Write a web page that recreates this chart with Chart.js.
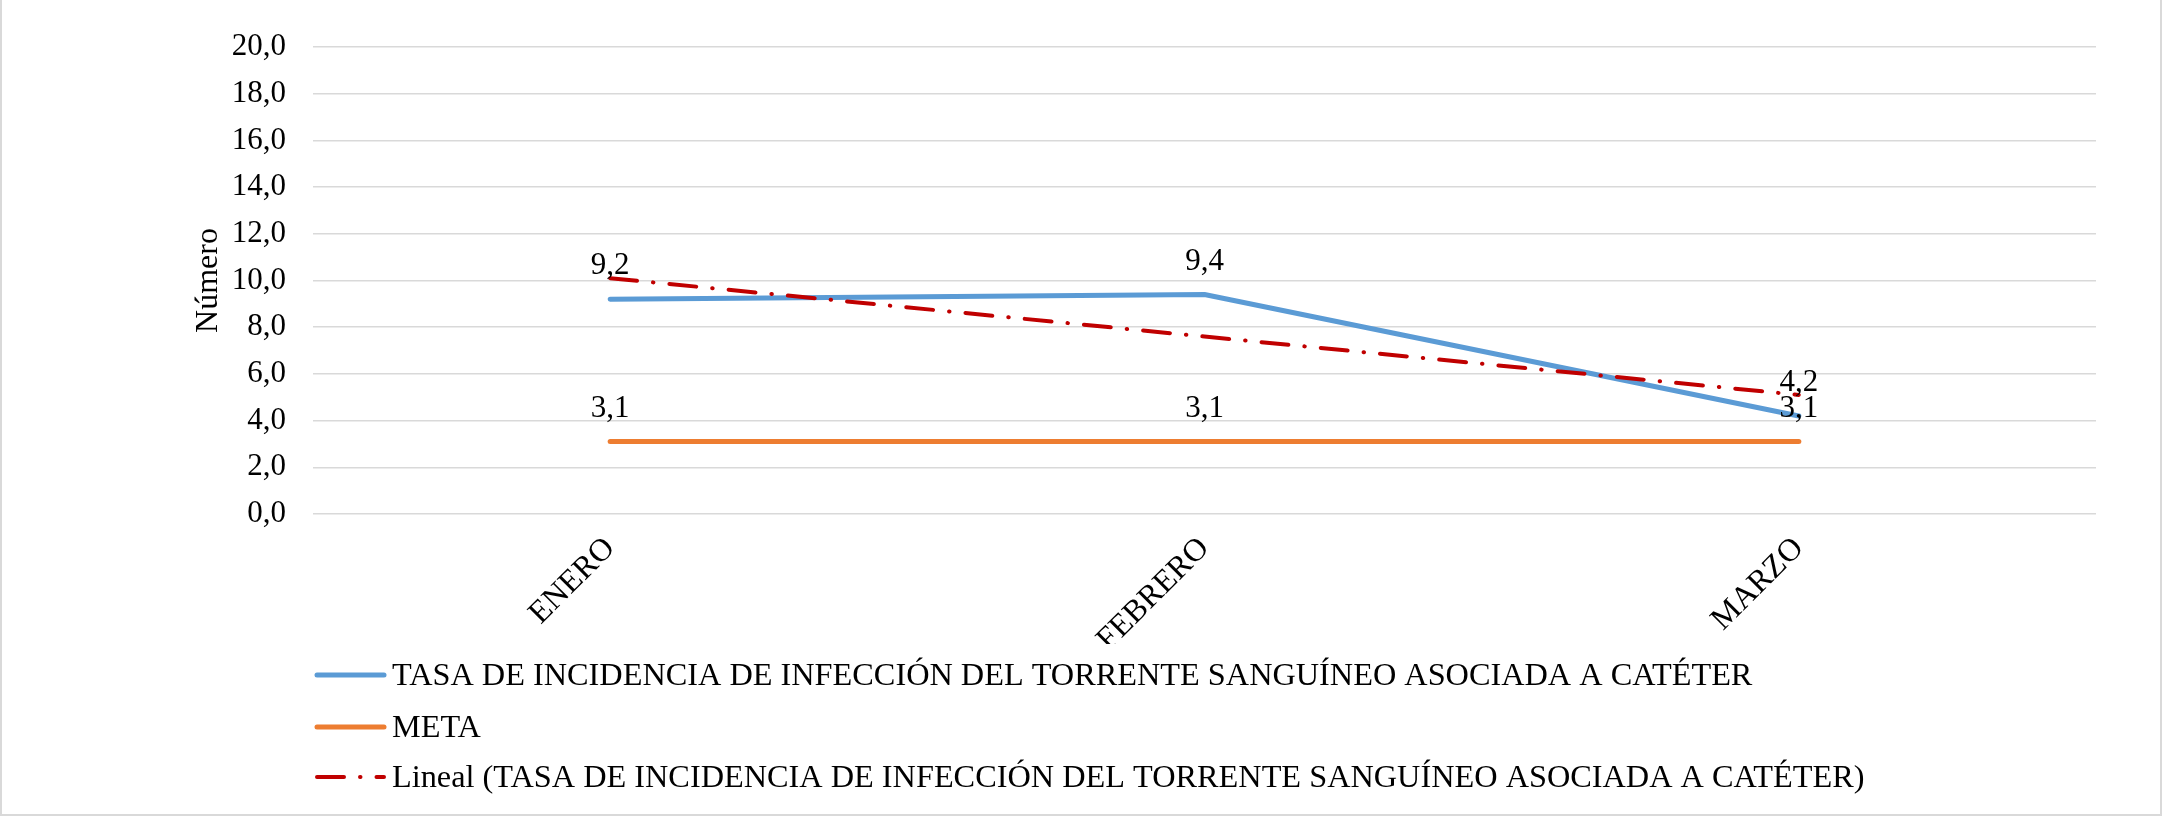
<!DOCTYPE html>
<html>
<head>
<meta charset="utf-8">
<script src="https://cdn.jsdelivr.net/npm/chart.js@4.4.0/dist/chart.umd.min.js"></script>
<style>
  html, body { margin: 0; padding: 0; background: #fff; }
  #wrap { position: relative; width: 2162px; height: 816px; }
</style>
</head>
<body>
<div id="wrap"><canvas id="myChart"></canvas></div>
<script>
/*************** data ***************/
const months = ["ENERO", "FEBRERO", "MARZO"];
const tasa = [9.2, 9.4, 4.2];
const meta = [3.1, 3.1, 3.1];
// linear trend of the rate
const lineal = [10.1, 7.6, 5.1];
const yTicks = [0, 2, 4, 6, 8, 10, 12, 14, 16, 18, 20];

const nameTasa = "TASA DE INCIDENCIA DE INFECCIÓN DEL TORRENTE SANGUÍNEO ASOCIADA A CATÉTER";
const nameMeta = "META";
const nameLineal = "Lineal (TASA DE INCIDENCIA DE INFECCIÓN DEL TORRENTE SANGUÍNEO ASOCIADA A CATÉTER)";

const serif = "'Liberation Serif', 'Times New Roman', serif";
const fmt = v => v.toFixed(1).replace(".", ",");

Chart.defaults.font.family = serif;
Chart.defaults.color = "#000";

/*************** value labels above points ***************/
const valueLabels = {
  id: "valueLabels",
  afterDatasetsDraw(chart) {
    const ctx = chart.ctx;
    ctx.save();
    ctx.font = "31px " + serif;
    ctx.fillStyle = "#000";
    ctx.textAlign = "center";
    ctx.textBaseline = "alphabetic";
    chart.data.datasets.forEach((ds, i) => {
      if (!ds.showValues) return;
      chart.getDatasetMeta(i).data.forEach((pt, j) => {
        ctx.fillText(fmt(ds.data[j]), pt.x, pt.y - 25);
      });
    });
    ctx.restore();
  }
};

/*************** legend, one row per series ***************/
const stackedLegend = {
  id: "stackedLegend",
  afterDraw(chart) {
    const ctx = chart.ctx;
    const rows = [675, 727, 777];
    const order = [0, 1, 2];
    ctx.save();
    ctx.font = "32.3px " + serif;
    ctx.fillStyle = "#000";
    ctx.textBaseline = "alphabetic";
    order.forEach((di, r) => {
      const ds = chart.data.datasets[di];
      const y = rows[r];
      ctx.beginPath();
      ctx.strokeStyle = ds.borderColor;
      ctx.lineWidth = ds.borderWidth;
      ctx.lineCap = "round";
      ctx.setLineDash(ds.borderDash || []);
      ctx.moveTo(317, y);
      ctx.lineTo(384, y);
      ctx.stroke();
      ctx.setLineDash([]);
      ctx.fillText(ds.label, 392, y + 10);
    });
    ctx.restore();
  }
};

/*************** light frame ***************/
const frame = {
  id: "frame",
  afterDraw(chart) {
    const ctx = chart.ctx;
    const w = chart.width, h = chart.height;
    ctx.save();
    ctx.strokeStyle = "#d9d9d9";
    ctx.lineWidth = 2;
    ctx.beginPath();
    ctx.moveTo(1, 0);
    ctx.lineTo(1, h - 1);
    ctx.lineTo(w - 1, h - 1);
    ctx.lineTo(w - 1, 0);
    ctx.stroke();
    ctx.restore();
  }
};

/*************** chart ***************/
const ctx = document.getElementById("myChart").getContext("2d");

new Chart(ctx, {
  type: "line",
  data: {
    labels: months,
    datasets: [
      {
        label: nameTasa,
        data: tasa,
        borderColor: "#5B9BD5",
        borderWidth: 5,
        borderCapStyle: "round",
        borderJoinStyle: "round",
        pointRadius: 0,
        tension: 0,
        order: 3,
        showValues: true
      },
      {
        label: nameMeta,
        data: meta,
        borderColor: "#ED7D31",
        borderWidth: 5,
        borderCapStyle: "round",
        borderJoinStyle: "round",
        pointRadius: 0,
        tension: 0,
        order: 2,
        showValues: true
      },
      {
        label: nameLineal,
        data: lineal,
        borderColor: "#C00000",
        borderWidth: 4,
        borderDash: [27, 16, 0.5, 16],
        borderCapStyle: "round",
        pointRadius: 0,
        tension: 0,
        order: 1
      }
    ]
  },
  options: {
    responsive: true,
    maintainAspectRatio: false,
    animation: false,
    layout: {
      padding: { left: 0, right: 66, top: 47, bottom: 172 }
    },
    scales: {
      x: {
        offset: true,
        grid: { display: false },
        border: { display: false },
        ticks: {
          font: { size: 32, family: serif },
          color: "#000",
          minRotation: 45,
          maxRotation: 45,
          padding: 8
        },
        afterFit(scale) { scale.height = 130; }
      },
      y: {
        min: 0,
        max: 20,
        afterBuildTicks(scale) {
          scale.ticks = yTicks.map(v => ({ value: v }));
        },
        border: { display: false },
        grid: {
          color: "#d9d9d9",
          lineWidth: 1.5,
          drawTicks: false
        },
        ticks: {
          font: { size: 31, family: serif },
          color: "#000",
          padding: 27,
          callback: v => fmt(v)
        },
        title: {
          display: true,
          text: "Número",
          font: { size: 32, family: serif },
          color: "#000",
          padding: { top: 189, bottom: 0 }
        },
        afterFit(scale) { scale.width = 313; }
      }
    },
    plugins: {
      legend: { display: false },
      tooltip: { enabled: false }
    }
  },
  plugins: [valueLabels, stackedLegend, frame]
});
</script>
</body>
</html>
